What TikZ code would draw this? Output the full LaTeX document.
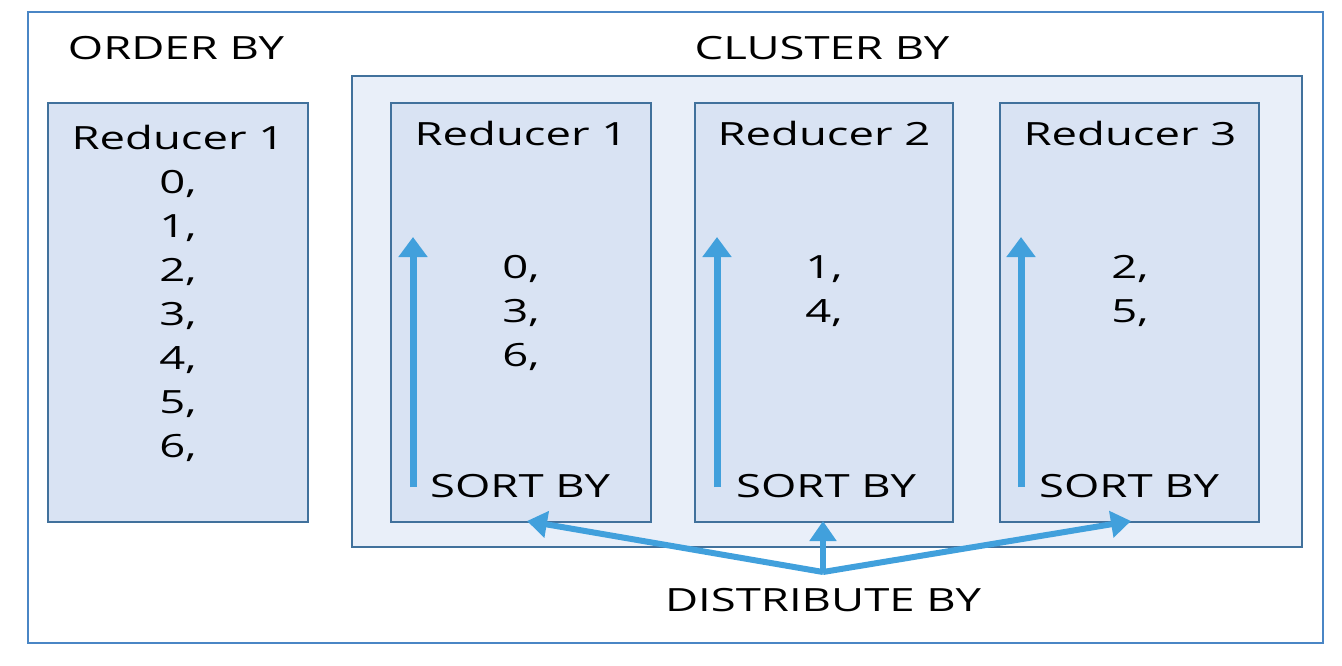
\documentclass[tikz,border=0pt]{standalone}
\usepackage{fontspec}
\setmainfont{Open Sans}[FakeStretch=1.42]
\usetikzlibrary{arrows.meta}
\definecolor{frameblue}{HTML}{4A86C5}
\definecolor{boxedge}{HTML}{41719C}
\definecolor{clusterfill}{HTML}{E9EFF9}
\definecolor{reducerfill}{HTML}{D9E3F3}
\definecolor{arrowblue}{HTML}{41A0DC}
\begin{document}
\begin{tikzpicture}[x=1pt,y=-1pt,
  lbl/.style={font=\fontsize{32}{38}\selectfont, inner sep=0pt},
  keylist/.style={font=\fontsize{32}{44}\selectfont, inner sep=0pt, align=center, anchor=north},
  reducer/.style={draw=boxedge, line width=1.6pt, fill=reducerfill},
  cluster/.style={draw=boxedge, line width=1.6pt, fill=clusterfill},
  sortarrow/.style={draw=arrowblue, line width=7pt, -{Triangle[width=28pt,length=20pt]}},
  distarrow/.style={draw=arrowblue, line width=6pt, -{Triangle[width=26pt,length=20pt]}}]
\useasboundingbox (0,0) rectangle (1342,666);
% outer frame
\draw[frameblue, line width=2.6pt] (28,12) rectangle (1323,643);
% titles
\node[lbl] (tOrder) at (176,48) {ORDER BY};
\node[lbl] (tCluster) at (822,48) {CLUSTER BY};
% single reducer for ORDER BY
\draw[reducer] (48,103) rectangle (308,522);
\node[lbl] (or1) at (178,138) {Reducer 1};
\node[keylist] (olist) at (178,170) {0,\\1,\\2,\\3,\\4,\\5,\\6,};
% cluster container
\draw[cluster] (352,76) rectangle (1302,547);
% three reducers
\draw[reducer] (391,103) rectangle (651,522);
\draw[reducer] (695,103) rectangle (953,522);
\draw[reducer] (1000,103) rectangle (1259,522);
\node[lbl] (c1) at (521,134) {Reducer 1};
\node[lbl] (c2) at (824,134) {Reducer 2};
\node[lbl] (c3) at (1130,134) {Reducer 3};
\node[keylist] (l1) at (521,255) {0,\\3,\\6,};
\node[keylist] (l2) at (824,255) {1,\\4,};
\node[keylist] (l3) at (1130,255) {2,\\5,};
% sort arrows
\coordinate (s1a) at (413,487); \coordinate (s1b) at (413,237);
\coordinate (s2a) at (717,487); \coordinate (s2b) at (717,237);
\coordinate (s3a) at (1021,487); \coordinate (s3b) at (1021,237);
\draw[sortarrow] (s1a) -- (s1b);
\draw[sortarrow] (s2a) -- (s2b);
\draw[sortarrow] (s3a) -- (s3b);
\node[lbl] (sb1) at (520,486) {SORT BY};
\node[lbl] (sb2) at (826,486) {SORT BY};
\node[lbl] (sb3) at (1129,486) {SORT BY};
% distribute arrows
\coordinate (hub) at (823,572);
\coordinate (d1) at (527,521);
\coordinate (d2) at (823,521);
\coordinate (d3) at (1131,521);
\draw[distarrow] (hub) -- (d1);
\draw[distarrow] (hub) -- (d2);
\draw[distarrow] (hub) -- (d3);
\node[lbl] (tDist) at (823,600) {DISTRIBUTE BY};
\end{tikzpicture}
\end{document}
